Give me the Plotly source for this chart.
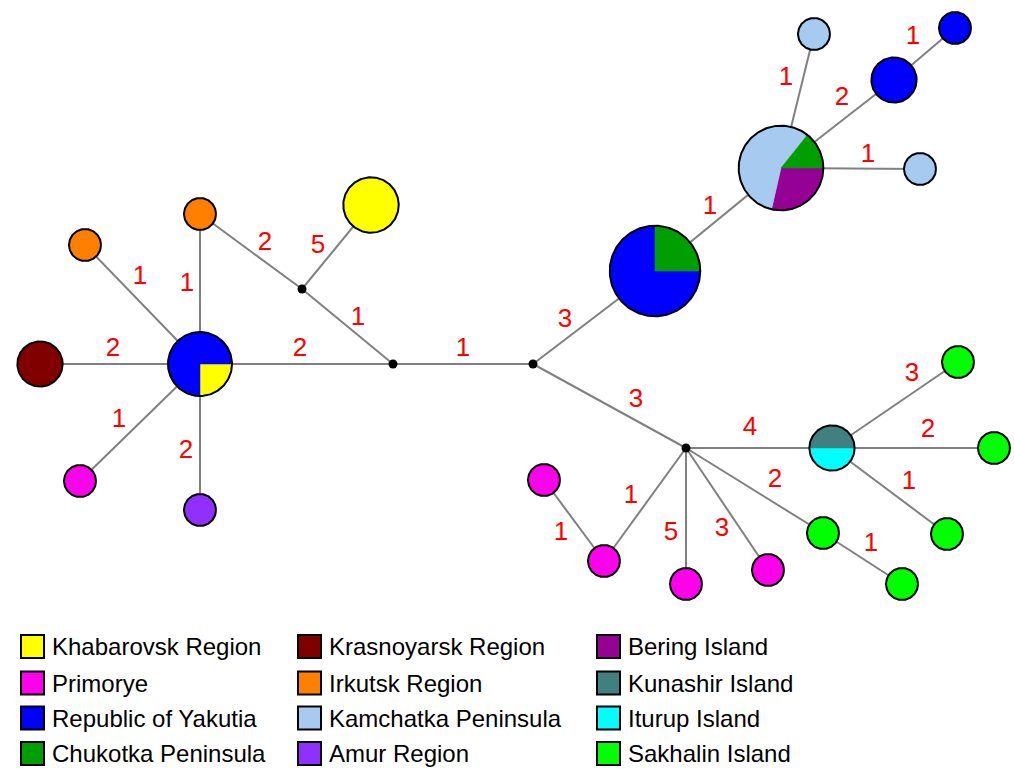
import numpy as np
import plotly.graph_objects as go

# ---------------- data ----------------
regions = ["Khabarovsk Region", "Primorye", "Republic of Yakutia", "Chukotka Peninsula",
           "Krasnoyarsk Region", "Irkutsk Region", "Kamchatka Peninsula", "Amur Region",
           "Bering Island", "Kunashir Island", "Iturup Island", "Sakhalin Island"]
region_colors = ["#FFFF00", "#FF00EA", "#0000FF", "#009E00",
                 "#800000", "#FF8000", "#A6CAF0", "#9030FF",
                 "#950095", "#408080", "#00FFFF", "#00FF00"]

# haplotypes: composition (regions and sample counts, drawn clockwise from east)
hap_ids = ["YK", "KR", "IR1", "IR2", "PR1", "AM", "KH", "YC", "KBC", "KM1", "YA2", "YA3", "KM2",
           "KI", "SA1", "SA2", "SA3", "SA4", "SA5", "PR2", "PR3", "PR4", "PR5"]
hap_regions = [["Khabarovsk Region", "Republic of Yakutia"], ["Krasnoyarsk Region"],
               ["Irkutsk Region"], ["Irkutsk Region"], ["Primorye"], ["Amur Region"],
               ["Khabarovsk Region"], ["Republic of Yakutia", "Chukotka Peninsula"],
               ["Bering Island", "Kamchatka Peninsula", "Chukotka Peninsula"],
               ["Kamchatka Peninsula"], ["Republic of Yakutia"], ["Republic of Yakutia"],
               ["Kamchatka Peninsula"], ["Iturup Island", "Kunashir Island"],
               ["Sakhalin Island"], ["Sakhalin Island"], ["Sakhalin Island"],
               ["Sakhalin Island"], ["Sakhalin Island"],
               ["Primorye"], ["Primorye"], ["Primorye"], ["Primorye"]]
hap_counts = [[1, 3], [2], [1], [1], [1], [1], [3], [6, 2], [2, 4, 1], [1], [2], [1], [1],
              [1, 1], [1], [1], [1], [1], [1], [1], [1], [1], [1]]

# median vectors (hypothetical haplotypes)
mv_ids = ["mv1", "mv2", "mv3", "mv4"]

# network edges and number of mutational steps
edge_from = ["YK", "YK", "YK", "YK", "YK", "YK", "IR2", "KH", "mv1", "mv2", "mv3", "YC",
             "KBC", "KBC", "YA2", "KBC", "mv3", "mv4", "KI", "KI", "KI", "mv4", "SA4",
             "mv4", "mv4", "mv4", "PR2"]
edge_to = ["IR1", "IR2", "KR", "PR1", "AM", "mv2", "mv1", "mv1", "mv2", "mv3", "YC", "KBC",
           "KM1", "YA2", "YA3", "KM2", "mv4", "KI", "SA1", "SA2", "SA3", "SA4", "SA5",
           "PR5", "PR4", "PR2", "PR3"]
edge_steps = [1, 1, 2, 1, 2, 2, 2, 5, 1, 1, 3, 1, 1, 2, 1, 1, 3, 4, 3, 2, 1, 2, 1, 3, 5, 1, 1]

# ---------------- layout (pixel positions of the network drawing) ----------------
node_pos = {
    "YK": (200, 364), "KR": (40, 364), "IR1": (85, 245), "IR2": (200, 214),
    "PR1": (80, 481), "AM": (200, 510), "KH": (371, 205),
    "mv1": (302, 289), "mv2": (393, 364), "mv3": (533, 364), "mv4": (686, 448),
    "YC": (655, 271), "KBC": (781, 168), "KM1": (814, 34), "YA2": (894, 80),
    "YA3": (955, 28), "KM2": (920, 169),
    "KI": (832, 448), "SA1": (958, 362), "SA2": (994, 448), "SA3": (947, 534),
    "SA4": (823, 533), "SA5": (902, 584),
    "PR2": (604, 561), "PR3": (544, 480), "PR4": (686, 584), "PR5": (768, 570),
}
label_pos = [(140, 277), (187, 284), (113, 349), (119, 420), (186, 451), (300, 349),
             (265, 243), (318, 246), (358, 318), (463, 349), (565, 320), (710, 207),
             (786, 78), (842, 98), (913, 37), (868, 155), (636, 400), (750, 428),
             (912, 374), (928, 430), (909, 482), (775, 480), (871, 544), (722, 529),
             (671, 533), (631, 496), (561, 533)]
BASE_R = 16.0
MV_R = 4.5
W, H = 1014, 769

color_of = dict(zip(regions, region_colors))
fig = go.Figure()

# edges
ex, ey = [], []
for a, b in zip(edge_from, edge_to):
    ex += [node_pos[a][0], node_pos[b][0], None]
    ey += [node_pos[a][1], node_pos[b][1], None]
fig.add_trace(go.Scatter(x=ex, y=ey, mode="lines", line=dict(color="#808080", width=2),
                         hoverinfo="skip"))

def arc(cx, cy, r, t0, t1, n=120):
    t = np.linspace(t0, t1, max(8, int(n * (t1 - t0) / (2 * np.pi)) + 2))
    return cx + r * np.cos(t), cy + r * np.sin(t)

# haplotype pies
for hid, regs, cnts in zip(hap_ids, hap_regions, hap_counts):
    cx, cy = node_pos[hid]
    total = sum(cnts)
    r = BASE_R * np.sqrt(total)
    if len(regs) == 1:
        xs, ys = arc(cx, cy, r, 0, 2 * np.pi, 160)
        fig.add_trace(go.Scatter(x=xs, y=ys, mode="lines", fill="toself",
                                 fillcolor=color_of[regs[0]],
                                 line=dict(color="black", width=2), name=regs[0],
                                 hoverinfo="name"))
        continue
    t0 = 0.0
    for reg, c in zip(regs, cnts):
        t1 = t0 + 2 * np.pi * c / total
        ax, ay = arc(cx, cy, r, t0, t1, 200)
        xs = np.concatenate([[cx], ax, [cx]])
        ys = np.concatenate([[cy], ay, [cy]])
        fig.add_trace(go.Scatter(x=xs, y=ys, mode="lines", fill="toself",
                                 fillcolor=color_of[reg],
                                 line=dict(color=color_of[reg], width=0.5), name=reg,
                                 hoverinfo="name"))
        t0 = t1
    xs, ys = arc(cx, cy, r, 0, 2 * np.pi, 200)
    fig.add_trace(go.Scatter(x=xs, y=ys, mode="lines", line=dict(color="black", width=2),
                             hoverinfo="skip"))

# median vectors
fig.add_trace(go.Scatter(x=[node_pos[m][0] for m in mv_ids], y=[node_pos[m][1] for m in mv_ids],
                         mode="markers", marker=dict(color="black", size=2 * MV_R),
                         hoverinfo="skip"))

# mutation step labels
fig.add_trace(go.Scatter(x=[p[0] for p in label_pos], y=[p[1] for p in label_pos],
                         mode="text", text=[str(s) for s in edge_steps],
                         textfont=dict(color="#FF0000", size=26,
                                       family="Liberation Sans, Arial, sans-serif"),
                         textposition="middle center", hoverinfo="skip"))

# legend (3 columns x 4 rows)
col_x = [20, 297, 596]
row_y = [646.5, 683, 718, 753.5]
for i, (reg, col) in enumerate(zip(regions, region_colors)):
    c, rr = divmod(i, 4)
    x0, yc = col_x[c], row_y[rr]
    fig.add_shape(type="rect", x0=x0 + 1, x1=x0 + 24, y0=yc - 11.5, y1=yc + 11.5,
                  xref="x", yref="y", fillcolor=col, line=dict(color="black", width=2))
    fig.add_annotation(x=x0 + 30, y=yc, text=reg, showarrow=False, xanchor="left",
                       yanchor="middle", xref="x", yref="y",
                       font=dict(size=24, color="black",
                                 family="Liberation Sans, Arial, sans-serif"))

fig.update_layout(width=W, height=H, margin=dict(l=0, r=0, t=0, b=0),
                  paper_bgcolor="white", plot_bgcolor="white", showlegend=False,
                  hovermode=False,
                  xaxis=dict(range=[0, W], visible=False, fixedrange=True),
                  yaxis=dict(range=[H, 0], visible=False, fixedrange=True))
fig.write_html("out.html", config={"displayModeBar": False, "staticPlot": True},
               post_script="document.body.style.margin='0';"
                           "document.body.style.overflow='hidden';")
